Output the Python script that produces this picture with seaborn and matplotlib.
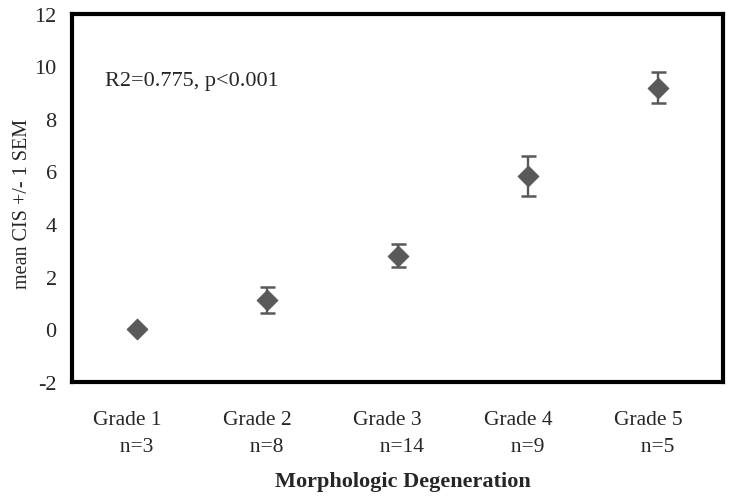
import seaborn as sns
import pandas as pd
import matplotlib
matplotlib.use("Agg")
import matplotlib.pyplot as plt
import numpy as np
from matplotlib.transforms import ScaledTranslation

# values
grades = ["Grade 1", "Grade 2", "Grade 3", "Grade 4", "Grade 5"]
counts = ["n=3", "n=8", "n=14", "n=9", "n=5"]
mean_cis = [0.0, 1.12, 2.80, 5.82, 9.19]
sem_cis = [0.0, 0.48, 0.43, 0.76, 0.58]

sns.set_style("white")
plt.rcParams['font.family'] = ['Liberation Serif', 'DejaVu Serif']

df = pd.DataFrame({"grade": grades, "pos": np.arange(len(grades)),
                   "mean": mean_cis, "sem": sem_cis})

fig = plt.figure(figsize=(7.33, 5.02), dpi=100)
ax = fig.add_axes([0.0982, 0.237, 0.8882, 0.734])

gray = "#595959"
ax.errorbar(df["pos"], df["mean"], yerr=df["sem"], fmt="none", ecolor=gray,
            elinewidth=1.7, capsize=5.4, capthick=1.8, zorder=2)
sns.scatterplot(data=df, x="pos", y="mean", marker="D", s=110, color=gray,
                edgecolor=gray, linewidth=0.8, ax=ax, zorder=3, legend=False)

ax.set_xlim(-0.5, len(grades) - 0.5)
ax.set_ylim(-2, 12)
ax.set_yticks(np.arange(-2, 13, 2))
ax.set_yticklabels([str(v) for v in range(-2, 13, 2)], fontsize=16)

ax.set_xticks(df["pos"])
labels = [g + "\n     " + n for g, n in zip(grades, counts)]
ax.set_xticklabels(labels, fontsize=15.5, multialignment="left", linespacing=1.6)
ax.set_xticks(np.arange(-0.5, len(grades), 1.0), minor=True)
ax.tick_params(axis="x", which="major", length=0, pad=20)
ax.tick_params(axis="x", which="minor", length=7, width=3, direction="out",
               color="black")
ax.tick_params(axis="y", length=6, width=1, direction="out", color="black",
               pad=5)
shift = ScaledTranslation(-9.5 / 100, 0, fig.dpi_scale_trans)
for lab in ax.get_xticklabels():
    lab.set_transform(lab.get_transform() + shift)

for sp in ax.spines.values():
    sp.set_visible(True)
    sp.set_linewidth(3)
    sp.set_color("black")

ax.set_xlabel("Morphologic Degeneration", fontsize=16, fontweight="bold")
ax.xaxis.set_label_coords(0.508, -0.2415)
ax.set_ylabel("mean CIS +/- 1 SEM", fontsize=14.5)
ax.yaxis.set_label_coords(-0.062, 0.487)

ax.text(0.0507, 0.806, "R2=0.775, p<0.001", transform=ax.transAxes,
        fontsize=16, va="baseline", ha="left")

fig.savefig("out.png", dpi=100)
